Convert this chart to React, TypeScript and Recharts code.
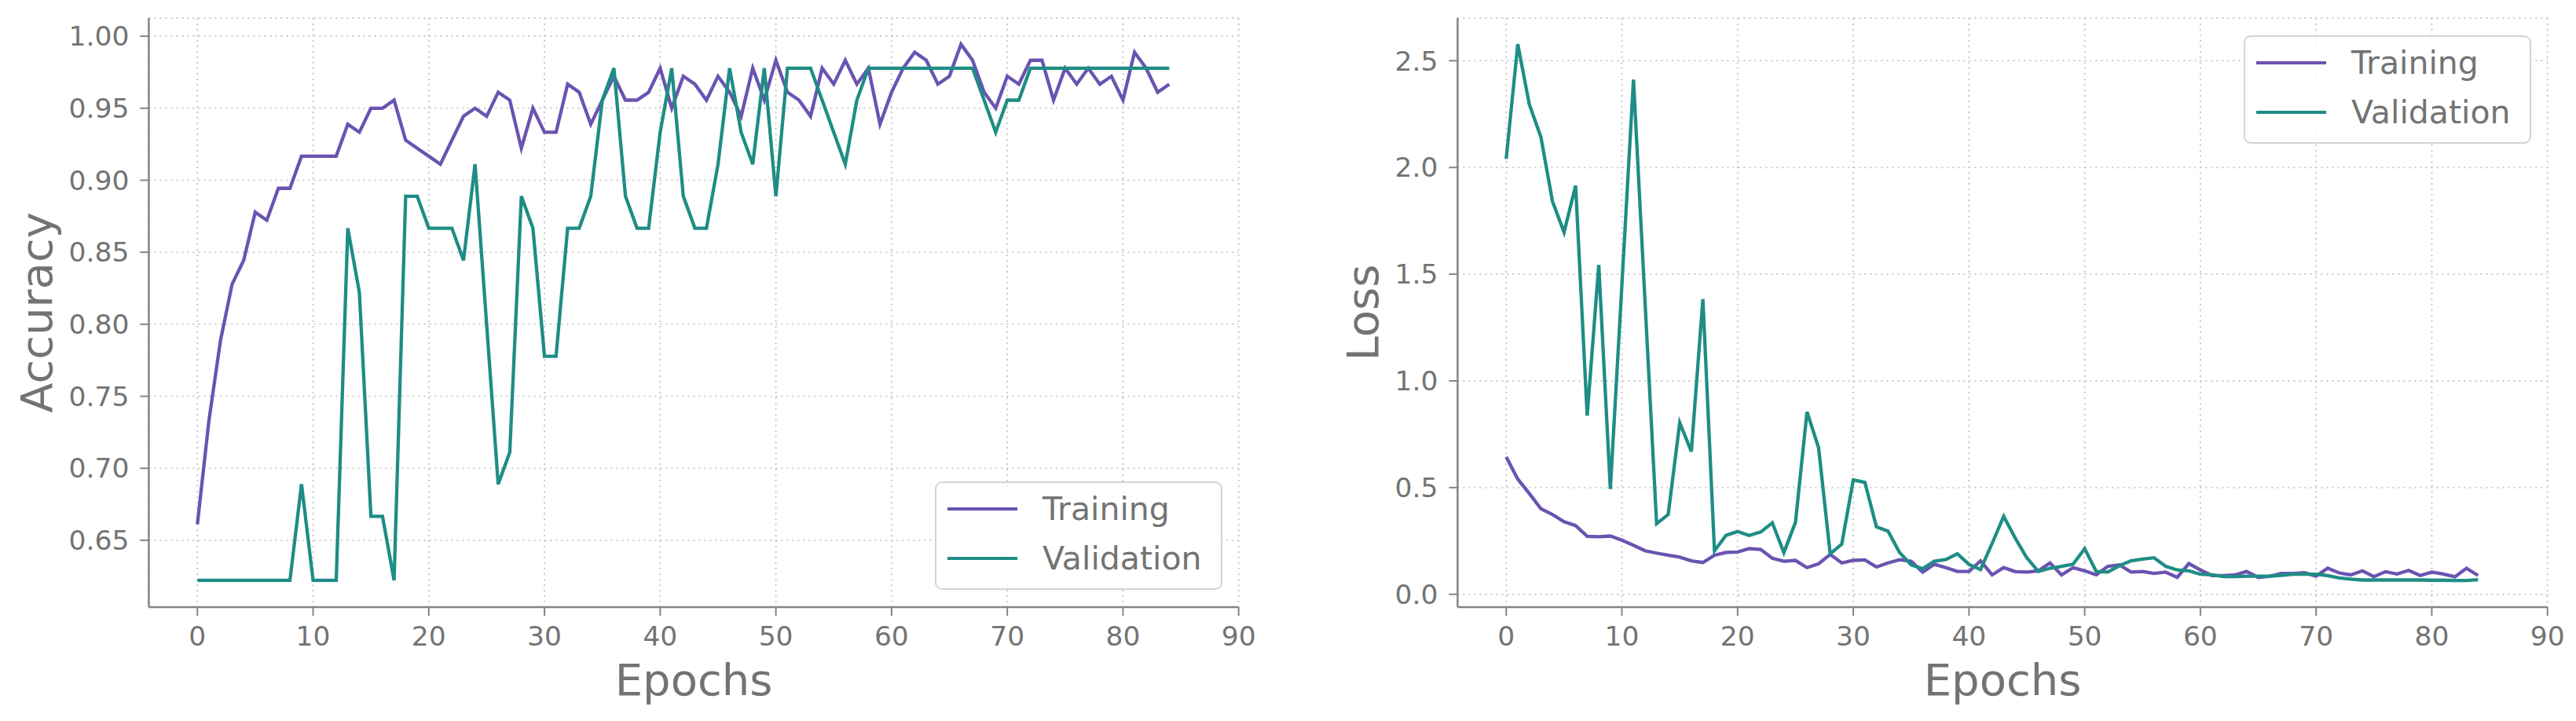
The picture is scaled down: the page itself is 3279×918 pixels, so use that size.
import React from 'react';
import { LineChart, Line, XAxis, YAxis, CartesianGrid, Legend } from 'recharts';

// ---- data ----
const epochs: number[] = Array.from({ length: 85 }, (_, i) => i);

const trainAcc: number[] = [
  0.6611, 0.7333, 0.7889, 0.8278, 0.8444, 0.8778, 0.8722, 0.8944, 0.8944, 0.9167,
  0.9167, 0.9167, 0.9167, 0.9389, 0.9333, 0.95, 0.95, 0.9556, 0.9278, 0.9222,
  0.9167, 0.9111, 0.9278, 0.9444, 0.95, 0.9444, 0.9611, 0.9556, 0.9222, 0.95,
  0.9333, 0.9333, 0.9667, 0.9611, 0.9389, 0.9556, 0.9722, 0.9556, 0.9556, 0.9611,
  0.9778, 0.95, 0.9722, 0.9667, 0.9556, 0.9722, 0.9611, 0.9444, 0.9778, 0.9556,
  0.9833, 0.9611, 0.9556, 0.9444, 0.9778, 0.9667, 0.9833, 0.9667, 0.9778, 0.9389,
  0.9611, 0.9778, 0.9889, 0.9833, 0.9667, 0.9722, 0.9944, 0.9833, 0.9611, 0.95,
  0.9722, 0.9667, 0.9833, 0.9833, 0.9556, 0.9778, 0.9667, 0.9778, 0.9667, 0.9722,
  0.9556, 0.9889, 0.9778, 0.9611, 0.9667,
];

const valAcc: number[] = [
  0.6222, 0.6222, 0.6222, 0.6222, 0.6222, 0.6222, 0.6222, 0.6222, 0.6222, 0.6889,
  0.6222, 0.6222, 0.6222, 0.8667, 0.8222, 0.6667, 0.6667, 0.6222, 0.8889, 0.8889,
  0.8667, 0.8667, 0.8667, 0.8444, 0.9111, 0.8, 0.6889, 0.7111, 0.8889, 0.8667,
  0.7778, 0.7778, 0.8667, 0.8667, 0.8889, 0.9556, 0.9778, 0.8889, 0.8667, 0.8667,
  0.9333, 0.9778, 0.8889, 0.8667, 0.8667, 0.9111, 0.9778, 0.9333, 0.9111, 0.9778,
  0.8889, 0.9778, 0.9778, 0.9778, 0.9556, 0.9333, 0.9111, 0.9556, 0.9778, 0.9778,
  0.9778, 0.9778, 0.9778, 0.9778, 0.9778, 0.9778, 0.9778, 0.9778, 0.9556, 0.9333,
  0.9556, 0.9556, 0.9778, 0.9778, 0.9778, 0.9778, 0.9778, 0.9778, 0.9778, 0.9778,
  0.9778, 0.9778, 0.9778, 0.9778, 0.9778,
];

const trainLoss: number[] = [
  0.644, 0.540, 0.472, 0.401, 0.374, 0.340, 0.322, 0.272, 0.270, 0.273,
  0.254, 0.230, 0.204, 0.193, 0.183, 0.174, 0.157, 0.149, 0.183, 0.196,
  0.198, 0.214, 0.210, 0.169, 0.155, 0.159, 0.125, 0.143, 0.187, 0.147,
  0.159, 0.161, 0.128, 0.147, 0.162, 0.155, 0.104, 0.141, 0.125, 0.107,
  0.107, 0.157, 0.091, 0.125, 0.106, 0.104, 0.110, 0.147, 0.091, 0.125,
  0.110, 0.091, 0.131, 0.138, 0.104, 0.107, 0.098, 0.104, 0.079, 0.144,
  0.114, 0.088, 0.088, 0.091, 0.107, 0.079, 0.085, 0.098, 0.098, 0.101,
  0.085, 0.122, 0.100, 0.091, 0.110, 0.083, 0.106, 0.095, 0.112, 0.088,
  0.104, 0.095, 0.082, 0.122, 0.088,
];

const valLoss: number[] = [
  2.040, 2.578, 2.295, 2.142, 1.841, 1.696, 1.915, 0.837, 1.543, 0.493,
  1.450, 2.412, 1.370, 0.331, 0.374, 0.804, 0.669, 1.383, 0.204, 0.276,
  0.294, 0.276, 0.292, 0.335, 0.196, 0.337, 0.855, 0.687, 0.190, 0.235,
  0.536, 0.525, 0.316, 0.296, 0.196, 0.138, 0.120, 0.155, 0.163, 0.190,
  0.140, 0.116, 0.239, 0.365, 0.263, 0.171, 0.107, 0.122, 0.131, 0.141,
  0.214, 0.107, 0.104, 0.134, 0.157, 0.165, 0.171, 0.131, 0.114, 0.110,
  0.094, 0.091, 0.083, 0.083, 0.085, 0.085, 0.085, 0.089, 0.094, 0.095,
  0.094, 0.088, 0.077, 0.071, 0.067, 0.067, 0.067, 0.067, 0.067, 0.067,
  0.066, 0.066, 0.065, 0.065, 0.068,
];

const xTicks: number[] = [0, 10, 20, 30, 40, 50, 60, 70, 80, 90];
const accTicks: number[] = [0.65, 0.7, 0.75, 0.8, 0.85, 0.9, 0.95, 1.0];
const lossTicks: number[] = [0, 0.5, 1.0, 1.5, 2.0, 2.5];
const seriesNames = { train: 'Training', val: 'Validation' };

// ---- style ----
const TRAIN_COLOR = '#6a53b1';
const VAL_COLOR = '#1e8d85';
const TEXT = '#737373';
const SPINE = '#858585';
const FONT = "'DejaVu Sans', sans-serif";

const accData = epochs.map((e, i) => ({ epoch: e, train: trainAcc[i], val: valAcc[i] }));
const lossData = epochs.map((e, i) => ({ epoch: e, train: trainLoss[i], val: valLoss[i] }));

const LegendBox = (props: any) => {
  const payload = (props.payload || []).slice().sort((a: any, b: any) =>
    a.value === seriesNames.train ? -1 : b.value === seriesNames.train ? 1 : 0);
  return (
    <div
      style={{
        position: 'relative',
        width: 366,
        height: 138,
        boxSizing: 'border-box',
        border: '2.5px solid #d4d4d4',
        borderRadius: 9,
        background: 'rgba(255,255,255,0.85)',
        fontFamily: FONT,
      }}
    >
      {payload.map((p: any, i: number) => {
        const cy = i === 0 ? 33 : 96;
        return (
          <React.Fragment key={p.value}>
            <div
              style={{
                position: 'absolute',
                left: 14,
                top: cy - 2.25,
                width: 89,
                height: 4.5,
                background: p.color,
              }}
            />
            <div
              style={{
                position: 'absolute',
                left: 135,
                top: cy - 30,
                height: 60,
                lineHeight: '60px',
                fontSize: 41,
                color: TEXT,
                whiteSpace: 'nowrap',
              }}
            >
              {p.value}
            </div>
          </React.Fragment>
        );
      })}
    </div>
  );
};

type PanelProps = {
  left: number;
  width: number;
  data: any[];
  yDomain: [number, number];
  yTicks: number[];
  yFmt: (v: number) => string;
  yLabel: string;
  yAxisWidth: number;
  marginRight: number;
  yLabelX: number;
  legendLeft: number;
  legendTop: number;
};

const Panel = (p: PanelProps) => {
  const yLabelContent = (props: any) => {
    const vb = props.viewBox || { x: 0, y: 23, width: 0, height: 750 };
    const cy = vb.y + vb.height / 2;
    return (
      <text
        x={p.yLabelX}
        y={cy}
        transform={`rotate(-90, ${p.yLabelX}, ${cy})`}
        textAnchor="middle"
        dominantBaseline="central"
        fill={TEXT}
        fontSize={56}
        fontFamily={FONT}
      >
        {p.yLabel}
      </text>
    );
  };
  const xLabelContent = (props: any) => {
    const vb = props.viewBox || { x: 0, y: 773, width: 1388, height: 60 };
    return (
      <text
        x={vb.x + vb.width / 2}
        y={885}
        textAnchor="middle"
        fill={TEXT}
        fontSize={56}
        fontFamily={FONT}
      >
        Epochs
      </text>
    );
  };
  return (
    <div style={{ position: 'absolute', left: p.left, top: 0 }}>
      <LineChart
        width={p.width}
        height={918}
        data={p.data}
        margin={{ top: 23, right: p.marginRight, left: 0, bottom: 85 }}
        style={{ fontFamily: FONT }}
      >
        <CartesianGrid stroke="#c9c9c9" strokeWidth={2} strokeDasharray="2 5" />
        <XAxis
          dataKey="epoch"
          type="number"
          domain={[-4.2, 90]}
          ticks={xTicks}
          interval={0}
          allowDataOverflow
          height={60}
          tickSize={11}
          tickMargin={14}
          tick={{ fill: TEXT, fontSize: 34.5, fontFamily: FONT }}
          tickLine={{ stroke: SPINE, strokeWidth: 2 }}
          axisLine={{ stroke: SPINE, strokeWidth: 2.5 }}
          label={{ content: xLabelContent }}
        />
        <YAxis
          type="number"
          domain={p.yDomain}
          ticks={p.yTicks}
          interval={0}
          allowDataOverflow
          width={p.yAxisWidth}
          tickSize={11}
          tickMargin={14}
          tickFormatter={p.yFmt}
          tick={{ fill: TEXT, fontSize: 34.5, fontFamily: FONT }}
          tickLine={{ stroke: SPINE, strokeWidth: 2 }}
          axisLine={{ stroke: SPINE, strokeWidth: 2.5 }}
          label={{ content: yLabelContent }}
        />
        <Line
          type="linear"
          dataKey="train"
          name={seriesNames.train}
          stroke={TRAIN_COLOR}
          strokeWidth={4.3}
          dot={false}
          activeDot={false}
          isAnimationActive={false}
        />
        <Line
          type="linear"
          dataKey="val"
          name={seriesNames.val}
          stroke={VAL_COLOR}
          strokeWidth={4.3}
          dot={false}
          activeDot={false}
          isAnimationActive={false}
        />
        <Legend
          layout="vertical"
          align="center"
          verticalAlign="middle"
          content={<LegendBox />}
          wrapperStyle={{
            position: 'absolute',
            left: p.legendLeft,
            top: p.legendTop,
            width: 366,
            height: 138,
            margin: 0,
          }}
        />
      </LineChart>
    </div>
  );
};

export default function App() {
  return (
    <div
      style={{
        position: 'absolute',
        left: 0,
        top: 0,
        width: 3279,
        height: 918,
        overflow: 'hidden',
        background: '#ffffff',
        fontFamily: FONT,
      }}
    >
      <Panel
        left={0}
        width={1640}
        data={accData}
        yDomain={[0.6036, 1.0126]}
        yTicks={accTicks}
        yFmt={(v) => v.toFixed(2)}
        yLabel="Accuracy"
        yAxisWidth={189.4}
        marginRight={63.3}
        yLabelX={46}
        legendLeft={1190}
        legendTop={613}
      />
      <Panel
        left={1650}
        width={1620}
        data={lossData}
        yDomain={[-0.06, 2.7]}
        yTicks={lossTicks}
        yFmt={(v) => v.toFixed(1)}
        yLabel="Loss"
        yAxisWidth={205.4}
        marginRight={27.3}
        yLabelX={84}
        legendLeft={1206}
        legendTop={45}
      />
    </div>
  );
}
